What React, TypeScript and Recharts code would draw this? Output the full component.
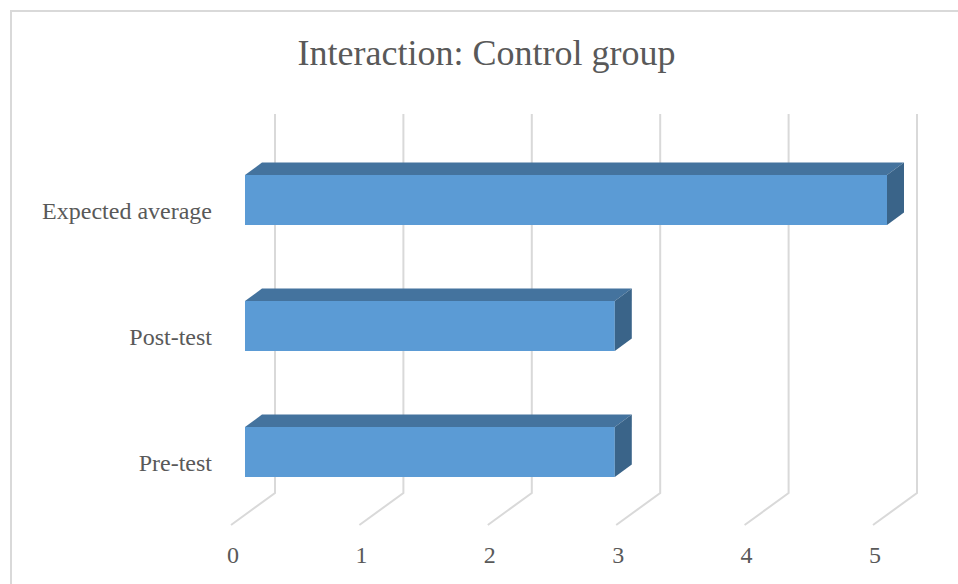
import React from "react";
import { BarChart, Bar, XAxis, YAxis, CartesianGrid } from "recharts";

const categories = ["Expected average", "Post-test", "Pre-test"];
const scores = [5, 2.88, 2.88];
const xTicks = [0, 1, 2, 3, 4, 5];

const data = categories.map((name, i) => ({ name, score: scores[i] }));

const FONT = "'Liberation Serif', 'Times New Roman', serif";
const TEXT = "#595959";
const GRID = "#d9d9d9";

// depth of the 3D box (bars) and of the floor (grid)
const DEPTH_X = 17;
const DEPTH_Y = 12.5;

const Bar3D = (props: any) => {
  const { x, y, width, height } = props;
  if (!width) return null;
  const r = x + width;
  return (
    <g>
      <rect x={x} y={y} width={width} height={height} fill="#5b9bd5" />
      <polygon
        points={`${x},${y} ${x + DEPTH_X},${y - DEPTH_Y} ${r + DEPTH_X},${y - DEPTH_Y} ${r},${y}`}
        fill="#44739e"
      />
      <polygon
        points={`${r},${y} ${r + DEPTH_X},${y - DEPTH_Y} ${r + DEPTH_X},${y + height - DEPTH_Y} ${r},${y + height}`}
        fill="#3a6489"
      />
    </g>
  );
};

// back wall line that bends forward across the floor
const GridLine = (props: any) => {
  const { x1, y1, y2, index } = props;
  const back = x1 + 30;
  const pts = `${back},${y1 - 23} ${back},${y2 - 22} ${x1 - 14},${y2 + 10}`;
  return <polyline key={`g-${index}`} points={pts} fill="none" stroke={GRID} strokeWidth={2} />;
};

const XTick = (props: any) => {
  const { x, y, payload } = props;
  return (
    <text x={x - 12} y={y + 46} textAnchor="middle" fill={TEXT} fontSize={24} fontFamily={FONT}>
      {payload.value}
    </text>
  );
};

const YTick = (props: any) => {
  const { x, y, payload } = props;
  return (
    <text x={x} y={y + 19} textAnchor="end" fill={TEXT} fontSize={24} fontFamily={FONT}>
      {payload.value}
    </text>
  );
};

export default function App() {
  return (
    <div style={{ position: "fixed", left: 0, top: 0, width: 958, height: 584, overflow: "hidden", background: "#fff" }}>
      <div
        style={{
          position: "absolute",
          left: 10,
          top: 10,
          width: 1000,
          height: 1000,
          borderLeft: `2px solid ${GRID}`,
          borderTop: `2px solid ${GRID}`,
        }}
      />
      <svg width={958} height={584} style={{ position: "absolute", left: 0, top: 0 }}>
        <text x={486.5} y={65} textAnchor="middle" fill={TEXT} fontSize={36} fontFamily={FONT}>
          Interaction: Control group
        </text>
      </svg>
      <div style={{ position: "absolute", left: 0, top: 0 }}>
        <BarChart
          width={958}
          height={584}
          data={data}
          layout="vertical"
          margin={{ top: 137, right: 71, bottom: 39, left: 0 }}
        >
          <CartesianGrid horizontal={false} vertical={GridLine} />
          <XAxis
            type="number"
            domain={[0, 5]}
            ticks={xTicks}
            height={30}
            axisLine={false}
            tickLine={false}
            tickSize={0}
            tick={<XTick />}
          />
          <YAxis
            type="category"
            dataKey="name"
            width={245}
            axisLine={false}
            tickLine={false}
            tickSize={0}
            tickMargin={33}
            tick={<YTick />}
          />
          <Bar dataKey="score" barSize={50} shape={<Bar3D />} isAnimationActive={false} />
        </BarChart>
      </div>
    </div>
  );
}
